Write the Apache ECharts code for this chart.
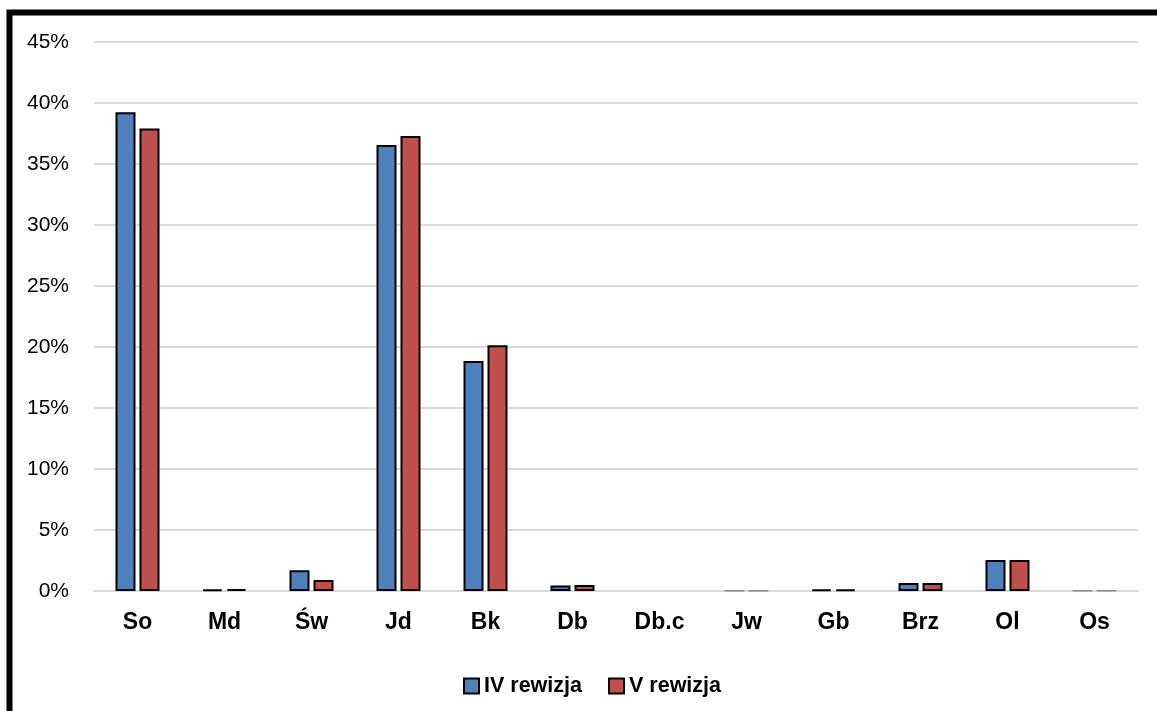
<!DOCTYPE html>
<html>
<head>
<meta charset="utf-8">
<script src="https://cdn.jsdelivr.net/npm/echarts@6/dist/echarts.min.js"></script>
<style>
html,body{margin:0;padding:0;background:#fff;}
#chart{width:1157px;height:711px;}
</style>
</head>
<body>
<div id="chart"></div>
<script>
const categories = ['So','Md','Św','Jd','Bk','Db','Db.c','Jw','Gb','Brz','Ol','Os'];
const seriesIV = [39.25, 0.12, 1.7, 36.55, 18.85, 0.45, 0, 0.03, 0.12, 0.65, 2.55, 0.03];
const seriesV  = [37.9, 0.15, 0.9, 37.3, 20.15, 0.5, 0, 0.03, 0.12, 0.65, 2.55, 0.05];
const yTicks = [0, 5, 10, 15, 20, 25, 30, 35, 40, 45];
const seriesNames = ['IV rewizja', 'V rewizja'];

const chart = echarts.init(document.getElementById('chart'));
const font = 'Liberation Sans, Arial, sans-serif';

function styled(vals) {
  return vals.map(v => {
    if (v === 0) return {value: v, itemStyle: {borderWidth: 0}};
    if (v < 0.06) return {value: v, itemStyle: {borderColor: '#8a8a8a', borderWidth: 1.5}};
    return v;
  });
}

chart.setOption({
  animation: false,
  backgroundColor: '#fff',
  graphic: [{
    type: 'rect',
    shape: {x: 9.5, y: 12.5, width: 1200, height: 760},
    style: {fill: 'none', stroke: '#000', lineWidth: 6},
    silent: true
  }],
  grid: {left: 94, right: 19, top: 42, bottom: 120, containLabel: false},
  legend: {
    data: seriesNames,
    top: 670,
    left: 458,
    icon: 'rect',
    itemWidth: 15,
    itemHeight: 15,
    itemGap: 26,
    textStyle: {fontFamily: font, fontSize: 21.5, fontWeight: 'bold', color: '#000'},
    itemStyle: {borderColor: '#000', borderWidth: 2}
  },
  xAxis: {
    type: 'category',
    data: categories,
    axisLine: {show: true, lineStyle: {color: '#d9d9d9', width: 2}},
    axisTick: {show: false},
    axisLabel: {fontFamily: font, fontSize: 23, fontWeight: 'bold', color: '#000', margin: 20}
  },
  yAxis: {
    type: 'value',
    min: yTicks[0],
    max: yTicks[yTicks.length - 1],
    interval: 5,
    axisLine: {show: false},
    axisTick: {show: false},
    splitLine: {lineStyle: {color: '#d9d9d9', width: 2}},
    axisLabel: {fontFamily: font, fontSize: 21, color: '#000', margin: 25, formatter: v => v + '%'}
  },
  series: [
    {
      name: seriesNames[0], type: 'bar', data: styled(seriesIV),
      barWidth: 20, barGap: '20%',
      itemStyle: {color: '#4f81bd', borderColor: '#000', borderWidth: 2}
    },
    {
      name: seriesNames[1], type: 'bar', data: styled(seriesV),
      barWidth: 20,
      itemStyle: {color: '#c0504d', borderColor: '#000', borderWidth: 2}
    }
  ]
});
</script>
</body>
</html>
